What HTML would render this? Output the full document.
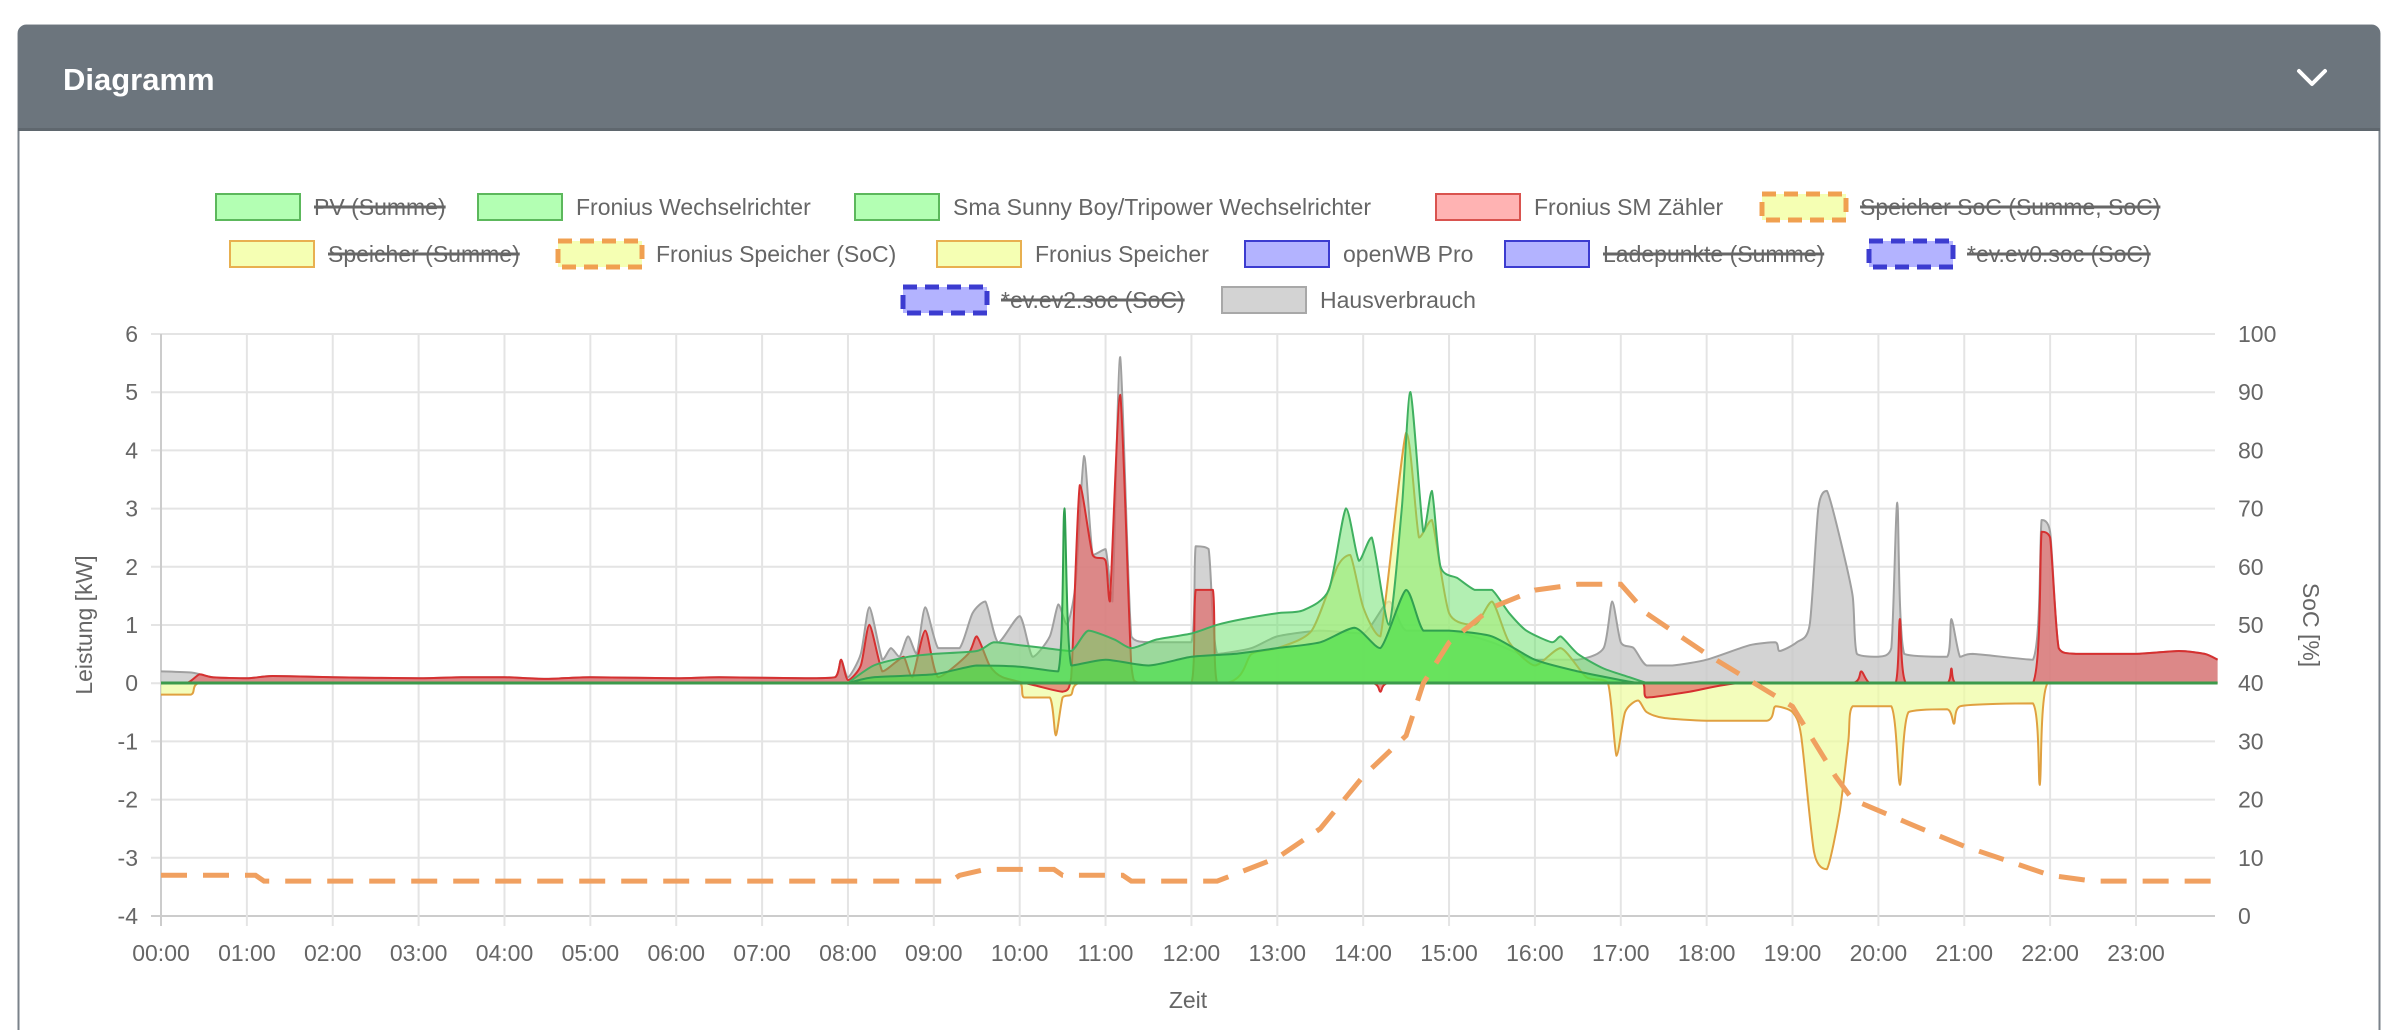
<!DOCTYPE html>
<html><head><meta charset="utf-8">
<style>
html,body{margin:0;padding:0;background:#fff;width:2386px;height:1030px;overflow:hidden;font-family:"Liberation Sans",sans-serif;}
</style></head>
<body>
<svg id="s" width="2386" height="1030" xmlns="http://www.w3.org/2000/svg" font-family="Liberation Sans, sans-serif">
<rect x="18.5" y="25.5" width="2361" height="1020" rx="8" fill="#fff" stroke="#7a828a" stroke-width="2"/>
<path d="M18 130 V33 a8 8 0 0 1 8 -8 H2372 a8 8 0 0 1 8 8 V130 Z" fill="#6c757d"/>
<rect x="18" y="128" width="2362" height="3" fill="#5f676e"/>
<text x="63" y="90" font-size="31" font-weight="bold" fill="#fff">Diagramm</text>
<path d="M2299 71 L2312 84 L2325 71" fill="none" stroke="#fff" stroke-width="4" stroke-linecap="round" stroke-linejoin="round"/>
<g id="grid"></g>
<g id="data"></g>
<g id="legend"></g>
<text transform="translate(92,625) rotate(-90)" text-anchor="middle" font-size="23" fill="#666">Leistung [kW]</text>
<text transform="translate(2303,625) rotate(90)" text-anchor="middle" font-size="23" fill="#666">SoC [%]</text>
<text x="1188" y="1008" text-anchor="middle" font-size="23" fill="#666">Zeit</text>
</svg>
<script>
var NS="http://www.w3.org/2000/svg";
function el(p,t,a,txt){var e=document.createElementNS(NS,t);for(var k in a)e.setAttribute(k,a[k]);if(txt!==undefined)e.textContent=txt;p.appendChild(e);return e;}
var L=161,R=2215,T=334,B=916,HX=85.87;
function X(h){return L+h*HX;}function Y(v){return 683-v*58.2;}function YS(s){return B-s*5.82;}
var g=document.getElementById('grid');
for(var i=0;i<=10;i++){var y=T+i*58.2;el(g,'line',{x1:L-10,x2:R,y1:y,y2:y,stroke:i==10?'#ccc':'#e4e4e4','stroke-width':2});
el(g,'text',{x:138,y:y+8,'text-anchor':'end','font-size':23,fill:'#666'},String(6-i));
el(g,'text',{x:2238,y:y+8,'font-size':23,fill:'#666'},String(100-i*10));}
for(var h=0;h<24;h++){var x=X(h);el(g,'line',{x1:x,x2:x,y1:T,y2:B+10,stroke:h==0?'#ccc':'#e4e4e4','stroke-width':2});
el(g,'text',{x:x,y:961,'text-anchor':'middle','font-size':23,fill:'#666'},(h<10?'0':'')+h+':00');}
var d=document.getElementById('data');
function cl(v,a,b){var lo=Math.min(a,b),hi=Math.max(a,b);return Math.min(Math.max(v,lo),hi);}
function smooth(P){var t=0.12,s='M'+P[0][0].toFixed(1)+' '+P[0][1].toFixed(1);
for(var i=0;i<P.length-1;i++){var p0=P[i-1]||P[i],p1=P[i],p2=P[i+1],p3=P[i+2]||P[i+1];
var c1x=p1[0]+(p2[0]-p0[0])*t,c1y=p1[1]+(p2[1]-p0[1])*t,c2x=p2[0]-(p3[0]-p1[0])*t,c2y=p2[1]-(p3[1]-p1[1])*t;
c1x=cl(c1x,p1[0],p2[0]);c2x=cl(c2x,p1[0],p2[0]);c1y=cl(c1y,p1[1],p2[1]);c2y=cl(c2y,p1[1],p2[1]);
s+=' C'+c1x.toFixed(1)+' '+c1y.toFixed(1)+' '+c2x.toFixed(1)+' '+c2y.toFixed(1)+' '+p2[0].toFixed(1)+' '+p2[1].toFixed(1);}return s;}
function area(pts,fill,stroke,op){var P=pts.map(function(p){return [X(p[0]),Y(p[1])];});var l=smooth(P);
var s=l+' L'+P[P.length-1][0]+' '+Y(0)+' L'+P[0][0]+' '+Y(0)+' Z';
el(d,'path',{d:s,fill:fill,'fill-opacity':op,stroke:'none'});
el(d,'path',{d:l,fill:'none',stroke:stroke,'stroke-width':2,'stroke-linejoin':'round'});}
var gray=[[0,0.2],[0.35,0.18],[0.45,0.15],[0.6,0.1],[1,0.08],[1.3,0.12],[2,0.1],[3,0.08],[3.5,0.1],[4,0.1],[4.5,0.07],[5,0.1],[6,0.08],[6.5,0.1],[7.5,0.08],[7.85,0.1],[7.92,0.4],[8.0,0.1],[8.15,0.5],[8.25,1.3],[8.4,0.4],[8.5,0.6],[8.6,0.45],[8.7,0.8],[8.8,0.5],[8.9,1.3],[9.05,0.6],[9.3,0.6],[9.45,1.2],[9.6,1.4],[9.75,0.7],[10.0,1.15],[10.15,0.45],[10.35,0.8],[10.45,1.35],[10.55,1.0],[10.65,1.7],[10.75,3.9],[10.85,2.2],[11.0,2.3],[11.08,1.4],[11.17,5.6],[11.3,0.8],[11.5,0.7],[12.0,0.7],[12.05,2.35],[12.2,2.3],[12.3,0.5],[12.7,0.6],[13,0.8],[13.5,0.9],[14,0.85],[14.3,1.4],[14.5,0.9],[15,0.9],[15.5,0.7],[16,0.4],[16.5,0.4],[16.8,0.6],[16.9,1.4],[17.0,0.7],[17.15,0.6],[17.3,0.3],[17.6,0.3],[18,0.4],[18.5,0.65],[18.8,0.7],[18.85,0.55],[19.05,0.7],[19.2,1.0],[19.3,3.0],[19.4,3.3],[19.55,2.5],[19.7,1.5],[19.75,0.5],[20.0,0.45],[20.15,0.6],[20.22,3.1],[20.3,0.5],[20.8,0.45],[20.85,1.1],[20.95,0.45],[21.1,0.5],[21.8,0.4],[21.9,2.8],[22.0,2.6],[22.1,0.6],[22.3,0.5],[23,0.5],[23.5,0.55],[23.8,0.5],[23.95,0.4]];
var red=[[0,0],[0.3,0],[0.45,0.15],[0.6,0.1],[1,0.08],[1.3,0.12],[2,0.1],[3,0.08],[3.5,0.1],[4,0.1],[4.5,0.07],[5,0.1],[6,0.08],[6.5,0.1],[7.5,0.08],[7.85,0.1],[7.92,0.4],[8.0,0.05],[8.15,0.3],[8.25,1.0],[8.4,0.2],[8.55,0.35],[8.65,0.45],[8.75,0.1],[8.9,0.9],[9.05,0.1],[9.4,0.5],[9.5,0.8],[9.65,0.3],[9.8,0.1],[10.2,-0.05],[10.5,-0.15],[10.6,0.1],[10.7,3.4],[10.85,2.2],[11.0,2.1],[11.05,1.4],[11.17,4.95],[11.3,0.3],[11.4,0],[12.0,0],[12.05,1.6],[12.25,1.6],[12.3,0],[14.1,0],[14.2,-0.15],[14.3,0],[17.25,0],[17.3,-0.25],[17.8,-0.15],[18.4,0],[19.7,0],[19.8,0.2],[19.9,0],[20.2,0],[20.25,1.1],[20.32,0],[20.8,0],[20.85,0.25],[20.9,0],[21.8,0],[21.9,2.6],[22.0,2.5],[22.1,0.6],[22.3,0.5],[23,0.5],[23.5,0.55],[23.8,0.5],[23.95,0.4]];
var yel=[[0,-0.2],[0.35,-0.2],[0.45,0],[10.0,0],[10.05,-0.25],[10.35,-0.25],[10.42,-0.9],[10.5,-0.25],[10.6,-0.2],[10.7,0],[12.4,0],[12.7,0.5],[13,0.6],[13.4,0.9],[13.7,2.0],[13.85,2.2],[14.0,1.3],[14.2,0.8],[14.5,4.3],[14.65,2.5],[14.8,2.8],[15,1.2],[15.3,1.0],[15.5,1.4],[15.7,0.7],[16.0,0.3],[16.3,0.6],[16.6,0.1],[16.85,0],[16.95,-1.25],[17.05,-0.5],[17.2,-0.3],[17.3,-0.5],[17.5,-0.6],[18.0,-0.65],[18.7,-0.65],[18.8,-0.4],[19.0,-0.5],[19.1,-0.9],[19.25,-2.9],[19.4,-3.2],[19.55,-2.2],[19.65,-1.0],[19.7,-0.4],[20.15,-0.4],[20.25,-1.75],[20.35,-0.5],[20.8,-0.45],[20.88,-0.7],[20.95,-0.4],[21.8,-0.35],[21.88,-1.75],[21.97,0],[23.95,0]];
var gA=[[8,0],[8.3,0.3],[8.7,0.45],[9,0.5],[9.5,0.55],[9.7,0.7],[10,0.65],[10.3,0.6],[10.6,0.55],[10.8,0.9],[11.1,0.75],[11.3,0.6],[11.6,0.75],[12,0.85],[12.3,1.0],[12.6,1.1],[13,1.2],[13.3,1.25],[13.6,1.6],[13.8,3.0],[13.95,2.1],[14.1,2.5],[14.3,1.0],[14.45,3.0],[14.55,5.0],[14.7,2.6],[14.8,3.3],[14.9,2.0],[15.1,1.8],[15.3,1.6],[15.5,1.6],[15.7,1.2],[15.9,0.9],[16.2,0.7],[16.3,0.8],[16.5,0.5],[16.8,0.25],[17.1,0.1],[17.3,0]];
var gB=[[8,0],[8.3,0.1],[9,0.15],[9.5,0.3],[10,0.28],[10.45,0.2],[10.52,3.0],[10.6,0.3],[11,0.4],[11.5,0.3],[12,0.45],[12.5,0.5],[13,0.6],[13.5,0.7],[13.9,0.95],[14.2,0.6],[14.5,1.6],[14.7,0.9],[15,0.9],[15.5,0.8],[16,0.4],[16.5,0.2],[17,0.05],[17.2,0]];
area(gray,'#c8c8c8','#a0a0a0',0.8);
area(yel,'#eefc9e','#e0a040',0.7);
area(red,'#e06060','#d63030',0.65);
area(gA,'#66e066','#40b060',0.5);
area(gB,'#40e040','#30a050',0.6);
el(d,'line',{x1:L,x2:X(23.95),y1:Y(0),y2:Y(0),stroke:'#3c9a4c','stroke-width':3});
var soc=[[0,7],[1.1,7],[1.2,6],[9.2,6],[9.3,7],[9.6,8],[10.4,8],[10.5,7],[11.2,7],[11.3,6],[12.3,6],[13,10],[13.5,15],[14,24],[14.5,31],[14.7,40],[15,47],[15.5,53],[16.0,56],[16.5,57],[17.0,57],[17.3,52],[18,45],[19,36],[19.5,24],[19.7,20],[20.5,15],[21,12],[22,7],[22.5,6],[23.95,6]];
var s='';soc.forEach(function(p,i){s+=(i?' L':'M')+X(p[0]).toFixed(1)+' '+YS(p[1]).toFixed(1);});
el(d,'path',{d:s,fill:'none',stroke:'#f0a060','stroke-width':5,'stroke-dasharray':'26 16'});
var lg=document.getElementById('legend');
var items=[[216,207,'PV (Summe)',1,'#b3ffb3','#5cb85c',0],[478,207,'Fronius Wechselrichter',0,'#b3ffb3','#5cb85c',0],[855,207,'Sma Sunny Boy/Tripower Wechselrichter',0,'#b3ffb3','#5cb85c',0],[1436,207,'Fronius SM Zähler',0,'#ffb3b3','#d9534f',0],[1762,207,'Speicher SoC (Summe, SoC)',1,'#f5ffb3','#f0a050',1],
[230,254,'Speicher (Summe)',1,'#f5ffb3','#e8b050',0],[558,254,'Fronius Speicher (SoC)',0,'#f5ffb3','#f0a050',1],[937,254,'Fronius Speicher',0,'#f5ffb3','#e8b050',0],[1245,254,'openWB Pro',0,'#b3b3ff','#3c3cd0',0],[1505,254,'Ladepunkte (Summe)',1,'#b3b3ff','#3c3cd0',0],[1869,254,'*ev.ev0.soc (SoC)',1,'#b3b3ff','#3c3cd0',1],
[903,300,'*ev.ev2.soc (SoC)',1,'#b3b3ff','#3c3cd0',1],[1222,300,'Hausverbrauch',0,'#d3d3d3','#a8a8a8',0]];
items.forEach(function(it){var a={x:it[0],y:it[1]-13,width:84,height:26,fill:it[4],stroke:it[5],'stroke-width':it[6]?5:2};if(it[6])a['stroke-dasharray']='14 8';el(lg,'rect',a);
var t=el(lg,'text',{x:it[0]+98,y:it[1]+8,'font-size':23,fill:'#666'},it[2]);
if(it[3]){var w=t.getComputedTextLength();el(lg,'line',{x1:it[0]+98,x2:it[0]+98+w,y1:it[1],y2:it[1],stroke:'#666','stroke-width':3});}});
</script>
</body></html>
